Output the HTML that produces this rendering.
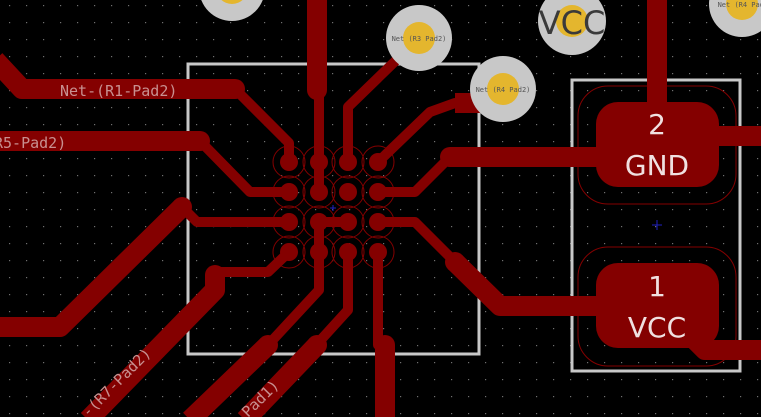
<!DOCTYPE html>
<html><head><meta charset="utf-8"><style>
html,body{margin:0;padding:0;background:#000;}
svg{display:block;}
text{font-family:"DejaVu Sans Mono","Liberation Mono",monospace;}
</style></head><body>
<svg width="761" height="417" viewBox="0 0 761 417" xmlns="http://www.w3.org/2000/svg">
<defs>
<pattern id="g" x="9" y="5" width="17" height="17" patternUnits="userSpaceOnUse">
<rect x="0" y="0" width="1.2" height="1.2" fill="#707070"/>
</pattern>
</defs>
<rect width="761" height="417" fill="#000"/>
<rect width="761" height="417" fill="url(#g)"/>

<rect x="188" y="64" width="291" height="290" fill="none" stroke="#c8c8c8" stroke-width="3"/>
<rect x="572" y="80" width="168" height="291" fill="none" stroke="#c8c8c8" stroke-width="3"/>

<g fill="none" stroke="#840000" stroke-width="1">
<circle cx="289" cy="162" r="16"/><circle cx="319" cy="162" r="16"/><circle cx="348" cy="162" r="16"/><circle cx="378" cy="162" r="16"/>
<circle cx="289" cy="192" r="16"/><circle cx="319" cy="192" r="16"/><circle cx="348" cy="192" r="16"/><circle cx="378" cy="192" r="16"/>
<circle cx="289" cy="222" r="16"/><circle cx="319" cy="222" r="16"/><circle cx="348" cy="222" r="16"/><circle cx="378" cy="222" r="16"/>
<circle cx="289" cy="252" r="16"/><circle cx="319" cy="252" r="16"/><circle cx="348" cy="252" r="16"/><circle cx="378" cy="252" r="16"/>
<rect x="578" y="86" width="158" height="118" rx="30" />
<rect x="578" y="247" width="158" height="119" rx="30" />
</g>

<g stroke="#840000" fill="none" stroke-linecap="round" stroke-linejoin="round">
<g stroke-width="10">
<polyline points="319,90 319,192"/>
<polyline points="235,89 289,143 289,162"/>
<polyline points="200,141 250,192 289,192"/>
<polyline points="182,207 197,222 289,222"/>
<polyline points="289,252 268,272 215,272"/>
<polyline points="319,222 348,222"/>
<polyline points="319,222 319,290 268,345"/>
<polyline points="417,40 348,107 348,162"/>
<polyline points="348,252 348,310 318,343"/>
<polyline points="378,162 430,112 455,103"/>
<polyline points="378,192 415,192 450,157"/>
<polyline points="378,222 415,222 455,262"/>
<polyline points="378,252 378,345"/>
</g>
<g stroke-width="20" stroke-linecap="butt">
<polyline points="317,0 317,90" stroke-linecap="round"/>
<polyline points="-5,60 22,89 235,89"/>
<polyline points="-5,141 200,141"/>
<polyline points="0,327 60,327 182,207"/>
<polyline points="215,275 215,290 88,420"/>
<polyline points="268,345 190,420"/>
<polyline points="317,345 245,420"/>
<polyline points="385,345 385,420"/>
<polyline points="455,103 500,103"/>
<polyline points="450,157 605,157"/>
<polyline points="455,262 500,306 605,306"/>
<polyline points="657,0 657,105"/>
<polyline points="715,136 761,136"/>
<polyline points="690,335 705,350 761,350"/>
</g>
</g>

<g fill="#840000">
<circle cx="289" cy="162" r="9"/><circle cx="319" cy="162" r="9"/><circle cx="348" cy="162" r="9"/><circle cx="378" cy="162" r="9"/>
<circle cx="289" cy="192" r="9"/><circle cx="319" cy="192" r="9"/><circle cx="348" cy="192" r="9"/><circle cx="378" cy="192" r="9"/>
<circle cx="289" cy="222" r="9"/><circle cx="319" cy="222" r="9"/><circle cx="348" cy="222" r="9"/><circle cx="378" cy="222" r="9"/>
<circle cx="289" cy="252" r="9"/><circle cx="319" cy="252" r="9"/><circle cx="348" cy="252" r="9"/><circle cx="378" cy="252" r="9"/>
<circle cx="235" cy="89" r="10"/><circle cx="200" cy="141" r="10"/><circle cx="182" cy="207" r="10"/>
<circle cx="215" cy="275" r="10"/><circle cx="268" cy="345" r="10"/><circle cx="317" cy="345" r="10"/><circle cx="385" cy="345" r="10"/>
<circle cx="455" cy="262" r="10"/><circle cx="450" cy="157" r="10"/>
<rect x="596" y="102" width="123" height="85" rx="22"/>
<rect x="596" y="263" width="123" height="85" rx="22"/>
</g>

<g fill="#f0e0e0" font-size="28" text-anchor="middle">
<text x="657" y="134" style="font-family:'DejaVu Sans',sans-serif">2</text>
<text x="657" y="175" style="font-family:'DejaVu Sans',sans-serif">GND</text>
<text x="657" y="296" style="font-family:'DejaVu Sans',sans-serif">1</text>
<text x="657" y="337" style="font-family:'DejaVu Sans',sans-serif">VCC</text>
</g>

<g>
<circle cx="232" cy="-12" r="33" fill="#c8c8c8"/><circle cx="232" cy="-12" r="16" fill="#e4b62e"/>
<circle cx="419" cy="38" r="33" fill="#c8c8c8"/><circle cx="419" cy="38" r="16" fill="#e4b62e"/>
<circle cx="503" cy="89" r="33" fill="#c8c8c8"/><circle cx="503" cy="89" r="16" fill="#e4b62e"/>
<circle cx="572" cy="21" r="34" fill="#c8c8c8"/><circle cx="572" cy="21" r="16" fill="#e4b62e"/>
<circle cx="742" cy="4" r="33" fill="#c8c8c8"/><circle cx="742" cy="4" r="16" fill="#e4b62e"/>
</g>
<g fill="#555" font-size="7" text-anchor="middle">
<text x="419" y="41">Net (R3 Pad2)</text>
<text x="503" y="92">Net (R4 Pad2)</text>
<text x="745" y="7">Net (R4 Pad2)</text>
</g>
<text x="572" y="34" fill="#3a3a3a" font-size="32" text-anchor="middle" style="font-family:'DejaVu Sans',sans-serif">VCC</text>

<g fill="#c89090" font-size="15">
<text x="60" y="96">Net-(R1-Pad2)</text>
<text x="-6" y="148">R5-Pad2)</text>
<text x="0" y="0" transform="translate(88,418) rotate(-45)">-(R7-Pad2)</text>
<text x="0" y="0" transform="translate(248,418) rotate(-45)">Pad1)</text>
</g>

<g stroke="#2020c0" stroke-width="1">
<line x1="330" y1="208" x2="336" y2="208"/><line x1="333" y1="205" x2="333" y2="211"/>
<line x1="652" y1="225" x2="662" y2="225"/><line x1="657" y1="220" x2="657" y2="230"/>
</g>
</svg>
</body></html>
